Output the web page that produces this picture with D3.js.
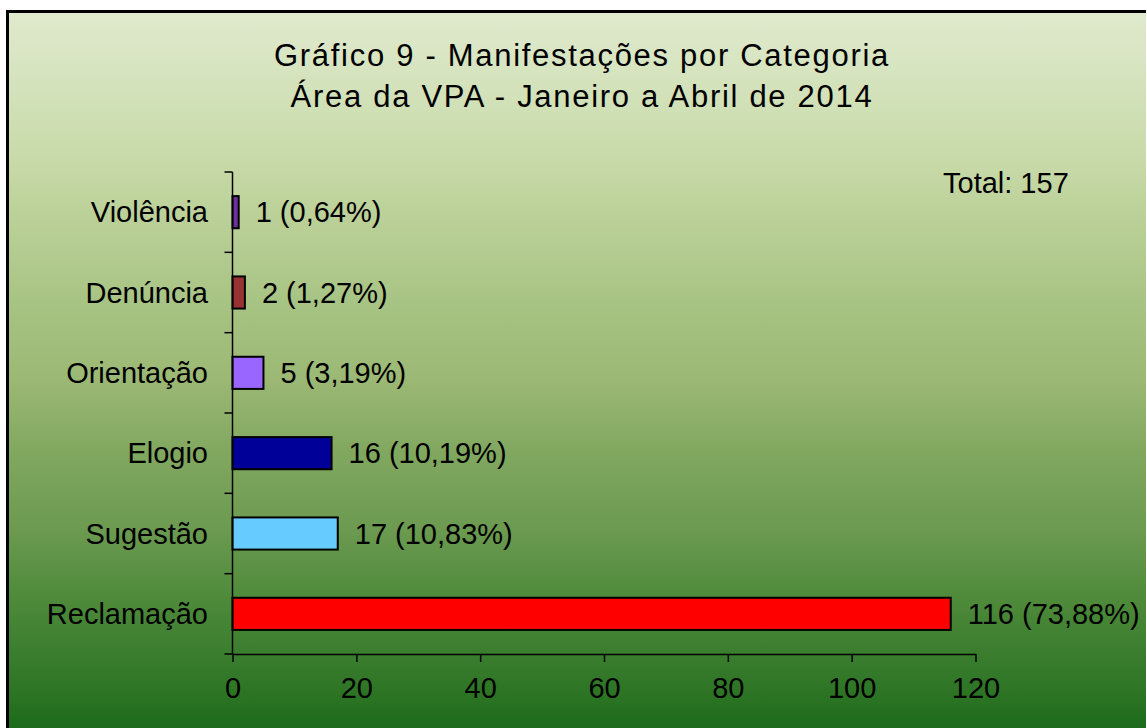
<!DOCTYPE html>
<html>
<head>
<meta charset="utf-8">
<script src="https://cdn.jsdelivr.net/npm/d3@7"></script>
<style>
  html, body { margin: 0; padding: 0; background: #ffffff; }
  svg { display: block; }
  text { font-family: "Liberation Sans", Arial, sans-serif; fill: #000; }
</style>
</head>
<body>
<svg id="chart" width="1147" height="728"></svg>
<script>
// ---- data ----
const categories = ["Violência", "Denúncia", "Orientação", "Elogio", "Sugestão", "Reclamação"];
const values = [1, 2, 5, 16, 17, 116];
const percents = ["0,64%", "1,27%", "3,19%", "10,19%", "10,83%", "73,88%"];
const barColors = ["#7030a0", "#993333", "#9966ff", "#000099", "#66ccff", "#ff0000"];
const xTicks = [0, 20, 40, 60, 80, 100, 120];
const titleLines = ["Gráfico 9 - Manifestações por Categoria", "Área da VPA - Janeiro a Abril de 2014"];
const totalLabel = "Total: 157";

const svg = d3.select("#chart");
const W = 1147, H = 728;

// background gradient
const defs = svg.append("defs");
const grad = defs.append("linearGradient").attr("id", "bg").attr("x1", 0).attr("y1", 0).attr("x2", 0).attr("y2", 1);
[[0, "#e0eace"], [0.19, "#cadcac"], [0.264, "#bfd39d"], [0.403, "#a8c484"], [0.515, "#9bb874"],
 [0.612, "#82a860"], [0.724, "#6b9a50"], [0.821, "#4e8a3a"], [0.891, "#3c7e30"], [0.961, "#2a7322"], [1, "#1c6a1c"]]
  .forEach(([o, c]) => grad.append("stop").attr("offset", o).attr("stop-color", c));

svg.append("rect").attr("x", 8).attr("y", 11).attr("width", W - 9).attr("height", H - 11).attr("fill", "url(#bg)");
svg.append("path").attr("d", `M7.5,${H} V11.5 H${W - 1}`).attr("fill", "none").attr("stroke", "#000").attr("stroke-width", 3);

// title
svg.selectAll("text.title").data(titleLines).join("text")
  .attr("class", "title")
  .attr("x", 582).attr("y", (d, i) => 66 + i * 41)
  .attr("text-anchor", "middle")
  .style("font-size", "31px")
  .style("letter-spacing", "1.7px")
  .text(d => d);

// scales
const x = d3.scaleLinear().domain([0, 120]).range([232.5, 975.5]);
const y = d3.scaleBand().domain(categories).range([172, 654]).paddingInner(0.6).paddingOuter(0.3);

// bars
svg.selectAll("rect.bar").data(values).join("rect")
  .attr("class", "bar")
  .attr("x", x(0))
  .attr("y", (d, i) => y(categories[i]))
  .attr("width", d => x(d) - x(0))
  .attr("height", y.bandwidth())
  .attr("fill", (d, i) => barColors[i])
  .attr("stroke", "#000").attr("stroke-width", 2);

// data labels
svg.selectAll("text.dl").data(values).join("text")
  .attr("class", "dl")
  .attr("x", d => x(d) + 17)
  .attr("y", (d, i) => y(categories[i]) + y.bandwidth() / 2 + 10)
  .style("font-size", "29px")
  .text((d, i) => `${d} (${percents[i]})`);

// y axis
const yStep = (654 - 172) / categories.length;
const yAxisG = svg.append("g");
yAxisG.append("line").attr("x1", x(0)).attr("x2", x(0)).attr("y1", 172).attr("y2", 654).attr("stroke", "#000").attr("stroke-width", 1.5);
yAxisG.selectAll("line.yt").data(d3.range(categories.length + 1)).join("line")
  .attr("class", "yt")
  .attr("x1", x(0) - 8).attr("x2", x(0))
  .attr("y1", i => 172 + i * yStep).attr("y2", i => 172 + i * yStep)
  .attr("stroke", "#000").attr("stroke-width", 1.5);
yAxisG.selectAll("text.cat").data(categories).join("text")
  .attr("class", "cat")
  .attr("x", 208)
  .attr("y", d => y(d) + y.bandwidth() / 2 + 10)
  .attr("text-anchor", "end")
  .style("font-size", "29px")
  .text(d => d);

// x axis
const xAxis = d3.axisBottom(x).tickValues(xTicks).tickSize(8).tickPadding(15).tickSizeOuter(0);
const xg = svg.append("g").attr("transform", "translate(0,654)").call(xAxis);
xg.select(".domain").attr("stroke", "#000").attr("stroke-width", 1.5);
xg.selectAll(".tick line").attr("stroke", "#000").attr("stroke-width", 1.5);
xg.selectAll(".tick text").style("font-size", "29px").style("font-family", '"Liberation Sans", Arial, sans-serif').attr("fill", "#000");

// total label
svg.append("text").attr("x", 943).attr("y", 193).style("font-size", "29px").text(totalLabel);
</script>
</body>
</html>
